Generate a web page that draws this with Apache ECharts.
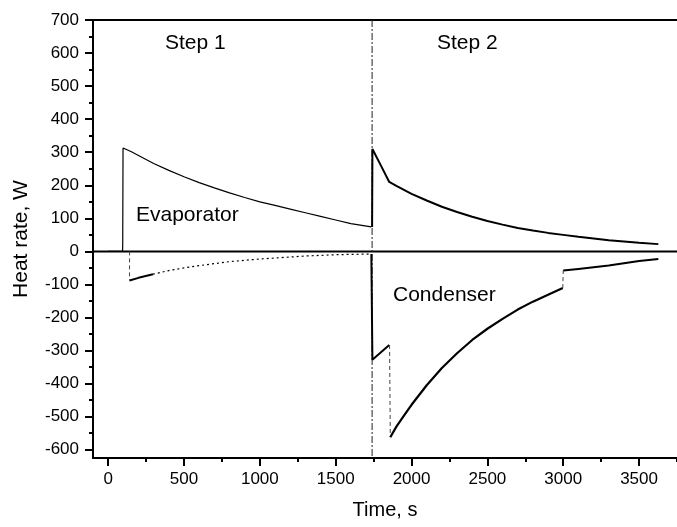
<!DOCTYPE html>
<html>
<head>
<meta charset="utf-8">
<script src="https://cdn.jsdelivr.net/npm/echarts@6/dist/echarts.min.js"></script>
<style>html,body{margin:0;padding:0;background:#fff}#c{width:677px;height:527px}</style>
</head>
<body>
<div id="c"></div>
<script>
// ---- data (time s, heat rate W) ----
const xMajorTicks = [0, 500, 1000, 1500, 2000, 2500, 3000, 3500];
const xMinorTicks = [250, 750, 1250, 1750, 2250, 2750, 3250, 3750];
const yMajorTicks = [-600, -500, -400, -300, -200, -100, 0, 100, 200, 300, 400, 500, 600, 700];
const yMinorTicks = [-550, -450, -350, -250, -150, -50, 50, 150, 250, 350, 450, 550, 650];

const zeroLine = [[-100, 0], [3750, 0]];
const stepDivider = [[1740, 700], [1740, -625]];

const evaporatorStep1 = [
  [0, 0], [95, 0], [96, 25], [98, 25], [98, 313], [110, 312], [150, 302], [200, 290],
  [300, 266], [400, 245], [500, 226], [600, 208], [700, 192], [800, 177], [900, 163],
  [1000, 150], [1100, 139], [1200, 128], [1300, 117], [1400, 106], [1500, 95],
  [1600, 84], [1735, 74]
];
const condenserStep1Drop = [[141, 0], [141, -88]];
const condenserStep1Start = [[141, -88], [200, -80], [295, -69]];
const condenserStep1Tail = [
  [295, -69], [400, -58], [500, -50], [600, -43], [700, -37], [800, -31], [900, -27],
  [1000, -23], [1100, -20], [1200, -17], [1300, -14], [1400, -12], [1500, -10],
  [1600, -9], [1735, -8]
];
const evaporatorStep2 = [
  [1740, 74], [1742, 310], [1800, 258], [1853, 210], [1900, 198], [2000, 174],
  [2100, 154], [2200, 135], [2300, 119], [2400, 105], [2500, 92], [2600, 81],
  [2700, 71], [2800, 63], [2900, 56], [3000, 50], [3100, 44], [3200, 39],
  [3300, 34], [3400, 30], [3500, 26], [3627, 22]
];
const condenserStep2Start = [[1735, -8], [1742, -328], [1853, -283]];
const condenserStep2Drop = [[1855, -283], [1860, -562]];
const condenserStep2Main = [
  [1860, -562], [1900, -530], [1950, -497], [2000, -464], [2100, -405], [2200, -353],
  [2300, -308], [2400, -268], [2500, -234], [2600, -204], [2700, -176], [2800, -152],
  [2900, -131], [2997, -111]
];
const condenserStep2Jump = [[2997, -111], [3000, -58]];
const condenserStep2Tail = [
  [3000, -58], [3100, -53], [3200, -48], [3300, -43], [3400, -36], [3500, -29], [3627, -23]
];

const FONT = 'Liberation Sans, Arial, sans-serif';
const chart = echarts.init(document.getElementById('c'), null, {renderer: 'canvas'});

function line(data, width, type, color) {
  return {
    type: 'line', data: data, symbol: 'none', animation: false, silent: true,
    xAxisIndex: 0, yAxisIndex: 0, clip: true,
    lineStyle: {color: color || '#000', width: width, type: type || 'solid'}
  };
}

const axisBase = {
  type: 'value', min: -100, max: 3750, splitLine: {show: false}
};
const plain = function (v) { return String(v); };

chart.setOption({
  animation: false,
  backgroundColor: '#fff',
  grid: {left: 93, top: 20, right: -1, bottom: 69, containLabel: false},
  xAxis: [
    Object.assign({}, axisBase, {
      position: 'bottom',
      name: 'Time, s', nameLocation: 'middle', nameGap: 42,
      nameTextStyle: {fontFamily: FONT, fontSize: 20, color: '#000'},
      axisLine: {show: true, onZero: false, lineStyle: {color: '#000', width: 2}},
      axisTick: {show: true, inside: false, length: 8, customValues: xMajorTicks, lineStyle: {color: '#000', width: 2}},
      axisLabel: {show: true, margin: 13, customValues: xMajorTicks, formatter: plain, fontFamily: FONT, fontSize: 17, color: '#000'}
    }),
    Object.assign({}, axisBase, {
      position: 'bottom',
      axisLine: {show: false, onZero: false},
      axisTick: {show: true, inside: false, length: 4, customValues: xMinorTicks, lineStyle: {color: '#000', width: 2}},
      axisLabel: {show: false}
    }),
    Object.assign({}, axisBase, {
      position: 'top',
      axisLine: {show: true, onZero: false, lineStyle: {color: '#000', width: 2}},
      axisTick: {show: false}, axisLabel: {show: false}
    })
  ],
  yAxis: [
    {
      type: 'value', min: -625, max: 700, position: 'left', splitLine: {show: false},
      name: 'Heat rate, W', nameLocation: 'middle', nameGap: 61, nameRotate: 90,
      nameTextStyle: {fontFamily: FONT, fontSize: 21, color: '#000'},
      axisLine: {show: true, onZero: false, lineStyle: {color: '#000', width: 2}},
      axisTick: {show: true, inside: false, length: 8, customValues: yMajorTicks, lineStyle: {color: '#000', width: 2}},
      axisLabel: {show: true, margin: 14, customValues: yMajorTicks, formatter: plain, fontFamily: FONT, fontSize: 17, color: '#000'}
    },
    {
      type: 'value', min: -625, max: 700, position: 'left', splitLine: {show: false},
      axisLine: {show: false, onZero: false},
      axisTick: {show: true, inside: false, length: 4, customValues: yMinorTicks, lineStyle: {color: '#000', width: 2}},
      axisLabel: {show: false}
    }
  ],
  series: [
    line(zeroLine, 2),
    line(stepDivider, 1, [7, 2, 2, 2], '#222'),
    line(evaporatorStep1, 1.2),
    line(condenserStep1Drop, 1, [4, 3], '#444'),
    line(condenserStep1Start, 2),
    line(condenserStep1Tail, 1.2, [2, 3]),
    line(evaporatorStep2, 2),
    line(condenserStep2Start, 2),
    line(condenserStep2Drop, 1, [4, 3], '#444'),
    line(condenserStep2Main, 2.2),
    line(condenserStep2Jump, 1, [4, 3], '#444'),
    line(condenserStep2Tail, 2)
  ],
  graphic: [
    {type: 'text', left: 165, top: 33, style: {text: 'Step 1', font: '21px ' + FONT, fill: '#000'}},
    {type: 'text', left: 437, top: 33, style: {text: 'Step 2', font: '21px ' + FONT, fill: '#000'}},
    {type: 'text', left: 136, top: 205, style: {text: 'Evaporator', font: '21px ' + FONT, fill: '#000'}},
    {type: 'text', left: 393, top: 285, style: {text: 'Condenser', font: '21px ' + FONT, fill: '#000'}}
  ]
});
</script>
</body>
</html>
